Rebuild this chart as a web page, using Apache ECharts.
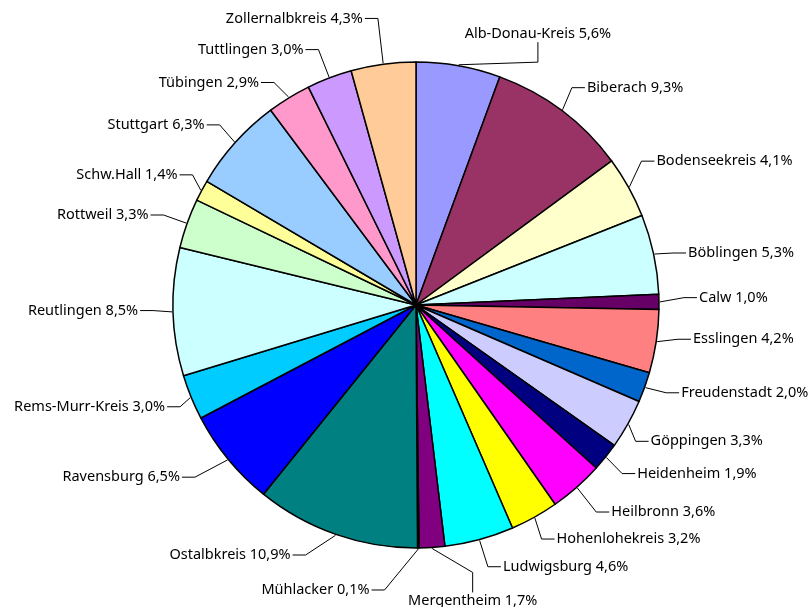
<!DOCTYPE html>
<html>
<head>
<meta charset="utf-8">
<script src="https://cdn.jsdelivr.net/npm/echarts@6/dist/echarts.min.js"></script>
<style>
    html, body { margin: 0; padding: 0; background: #fff; }
    #chart { width: 811px; height: 607px; }
</style>
</head>
<body>
<div id="chart"></div>
<script>
const districts = [
    "Alb-Donau-Kreis", "Biberach", "Bodenseekreis", "Böblingen", "Calw",
    "Esslingen", "Freudenstadt", "Göppingen", "Heidenheim", "Heilbronn",
    "Hohenlohekreis", "Ludwigsburg", "Mergentheim", "Mühlacker", "Ostalbkreis",
    "Ravensburg", "Rems-Murr-Kreis", "Reutlingen", "Rottweil", "Schw.Hall",
    "Stuttgart", "Tübingen", "Tuttlingen", "Zollernalbkreis"
];

const shares = [
    5.6, 9.3, 4.1, 5.3, 1.0,
    4.2, 2.0, 3.3, 1.9, 3.6,
    3.2, 4.6, 1.7, 0.1, 10.9,
    6.5, 3.0, 8.5, 3.3, 1.4,
    6.3, 2.9, 3.0, 4.3
];

const sliceColors = [
    "#9999FF", "#993366", "#FFFFCC", "#CCFFFF", "#660066",
    "#FF8080", "#0066CC", "#CCCCFF", "#000080", "#FF00FF",
    "#FFFF00", "#00FFFF", "#800080", "#800000", "#008080",
    "#0000FF", "#00CCFF", "#CCFFFF", "#CCFFCC", "#FFFF99",
    "#99CCFF", "#FF99CC", "#CC99FF", "#FFCC99"
];

/* ===========================
   Label placement
=========================== */

const CX = 416;
const CY = 305;
const R = 243;

// small hand nudges of the leader bend, like the labels were dragged in the original
const labelNudge = {
    "Alb-Donau-Kreis": { dx: 75, dy: 21, mode: "above" },
    "Biberach": { dx: -5, dy: -3 },
    "Bodenseekreis": { dx: -9, dy: -14 },
    "Böblingen": { dx: -5, dy: 4 },
    "Calw": { dx: 0, dy: -4 },
    "Esslingen": { dx: -3, dy: -6 },
    "Freudenstadt": { dx: -2, dy: -3 },
    "Göppingen": { dx: -14, dy: 5 },
    "Heidenheim": { dx: -3, dy: 1 },
    "Heilbronn": { dx: 3, dy: 6 },
    "Hohenlohekreis": { dx: -5, dy: 0 },
    "Ludwigsburg": { dx: 2, dy: 3 },
    "Mergentheim": { dx: 39, dy: 0, mode: "below" },
    "Mühlacker": { dx: -34, dy: 17, side: -1 },
    "Ostalbkreis": { dx: -22, dy: -3 },
    "Ravensburg": { dx: -14, dy: 2 },
    "Rems-Murr-Kreis": { dx: 12, dy: 0 },
    "Reutlingen": { dx: 5, dy: -2 },
    "Schw.Hall": { dx: 13, dy: -4 },
    "Stuttgart": { dx: 3, dy: -1 },
    "Tübingen": { dx: -2, dy: 6 },
    "Tuttlingen": { dx: -2, dy: -5 },
    "Zollernalbkreis": { dx: -2, dy: -21 }
};

const total = shares.reduce((a, b) => a + b, 0);
const midAngles = [];
let acc = 0;
shares.forEach(v => {
    midAngles.push((acc + v / 2) / total * Math.PI * 2);
    acc += v;
});

function polar(r, a) {
    return [CX + r * Math.sin(a), CY - r * Math.cos(a)];
}

function placeLabel(params) {

    const i = params.dataIndex;
    const a = midAngles[i];
    const tw = labelNudge[districts[i]] || {};

    const edge = polar(R + 1, a);
    const base = polar(R + 25, a);
    const bend = [base[0] + (tw.dx || 0), base[1] + (tw.dy || 0)];

    if (tw.mode === "above" || tw.mode === "below") {
        const dir = tw.mode === "above" ? -1 : 1;
        const end = [bend[0], bend[1] + dir * 20];
        return {
            x: end[0],
            y: end[1] + dir,
            align: "center",
            verticalAlign: tw.mode === "above" ? "bottom" : "top",
            labelLinePoints: [edge, bend, end]
        };
    }

    const side = tw.side || (Math.sin(a) >= 0 ? 1 : -1);
    const end = [bend[0] + side * 13, bend[1]];

    return {
        x: end[0] + side * 2,
        y: end[1],
        align: side > 0 ? "left" : "right",
        verticalAlign: "middle",
        labelLinePoints: [edge, bend, end]
    };
}

/* ===========================
   Chart
=========================== */

const chart = echarts.init(document.getElementById("chart"));

chart.setOption({

    animation: false,

    series: [{
        type: "pie",
        center: [CX, CY],
        radius: R,
        startAngle: 90,
        clockwise: true,
        avoidLabelOverlap: false,
        itemStyle: {
            borderColor: "#000",
            borderWidth: 1.5
        },
        label: {
            show: true,
            position: "outside",
            alignTo: "none",
            color: "#000",
            fontFamily: "Noto Sans",
            fontSize: 14.5,
            formatter: p => p.name + " " + p.value.toFixed(1).replace(".", ",") + "%"
        },
        labelLine: {
            show: true,
            length: 25,
            length2: 13,
            smooth: false,
            lineStyle: {
                color: "#000",
                width: 1
            }
        },
        labelLayout: placeLabel,
        emphasis: { disabled: true },
        data: districts.map((name, i) => ({
            name: name,
            value: shares[i],
            itemStyle: { color: sliceColors[i] }
        }))
    }]

});
</script>
</body>
</html>
